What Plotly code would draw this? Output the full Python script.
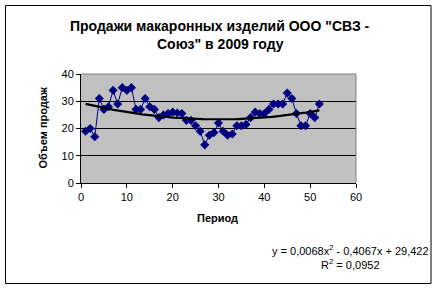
import numpy as np
import plotly.graph_objects as go

# ---- data ----
periods = list(range(1, 53))
sales = [19, 20, 17, 31, 27, 28, 34, 29, 35, 34,
         35, 27, 27, 31, 28, 27, 24, 25, 25.5, 26,
         25.7, 25.5, 23, 23, 21, 19, 14, 17.5, 18.5, 22,
         19, 17.5, 18, 21, 21, 21.5, 24, 26, 25.5, 25.5,
         27, 29, 29, 29, 33, 31, 25.5, 21, 21, 25.5,
         24, 29]
trend_coef = [0.0068, -0.4067, 29.422]   # polynomial trendline (deg 2)
x_ticks = [0, 10, 20, 30, 40, 50, 60]
y_ticks = [0, 10, 20, 30, 40]

title_l1 = 'Продажи макаронных изделий ООО "СВЗ -'
title_l2 = 'Союз" в 2009 году'
x_title = "Период"
y_title = "Объем продаж"
eq_text = "y = 0,0068x<sup>2</sup> - 0,4067x + 29,422<br>R<sup>2</sup> = 0,0952"

tx = np.linspace(periods[0], periods[-1], 200)
ty = np.polyval(trend_coef, tx)

FONT = "Liberation Sans, Arial, sans-serif"
NAVY = "#000080"

fig = go.Figure()
fig.add_trace(go.Scatter(
    x=periods, y=sales, mode="lines+markers",
    line=dict(color=NAVY, width=1),
    marker=dict(symbol="diamond", size=7, color=NAVY),
    showlegend=False, hoverinfo="skip"))
fig.add_trace(go.Scatter(
    x=tx, y=ty, mode="lines",
    line=dict(color="black", width=2.2),
    showlegend=False, hoverinfo="skip"))

L, R, T, B = 81, 82, 74, 105
W, H = 438, 288
pw, ph = W - L - R, H - T - B

def px_x(p):
    return (p - L) / pw

def px_y(p):
    return (H - B - p) / ph

fig.update_layout(
    width=W, height=H,
    margin=dict(l=L, r=R, t=T, b=B, pad=0),
    paper_bgcolor="white", plot_bgcolor="#C0C0C0",
    font=dict(family=FONT, size=11, color="black"),
    xaxis=dict(range=[0, 60], tickvals=x_ticks, showgrid=False, zeroline=False,
               showline=True, linecolor="black", linewidth=1,
               ticks="outside", ticklen=4, tickcolor="black",
               tickfont=dict(size=11, family=FONT)),
    yaxis=dict(range=[0, 40], tickvals=y_ticks, showgrid=True, gridcolor="black",
               gridwidth=1, zeroline=False,
               showline=True, linecolor="black", linewidth=1,
               ticks="outside", ticklen=4, tickcolor="black",
               tickfont=dict(size=11, family=FONT)),
    shapes=[
        dict(type="rect", xref="paper", yref="paper",
             x0=px_x(5.5), x1=px_x(431), y0=px_y(283.5), y1=px_y(5.5),
             line=dict(color="black", width=1), fillcolor="rgba(0,0,0,0)", layer="below"),
        dict(type="line", xref="paper", yref="paper", x0=0, x1=1, y0=1, y1=1,
             line=dict(color="#808080", width=1), layer="above"),
        dict(type="line", xref="paper", yref="paper", x0=1, x1=1, y0=0, y1=1,
             line=dict(color="#808080", width=1), layer="above"),
    ],
    annotations=[
        dict(text="<b>" + title_l1 + "</b>", xref="paper", yref="paper",
             x=px_x(220), y=px_y(26), xanchor="center", yanchor="middle",
             showarrow=False, font=dict(size=14, family=FONT)),
        dict(text="<b>" + title_l2 + "</b>", xref="paper", yref="paper",
             x=px_x(220), y=px_y(44), xanchor="center", yanchor="middle",
             showarrow=False, font=dict(size=14, family=FONT)),
        dict(text="<b>" + x_title + "</b>", xref="paper", yref="paper",
             x=px_x(217), y=px_y(218), xanchor="center", yanchor="middle",
             showarrow=False, font=dict(size=11, family=FONT)),
        dict(text="<b>" + y_title + "</b>", xref="paper", yref="paper",
             x=px_x(42), y=px_y(128.5), xanchor="center", yanchor="middle",
             textangle=-90, showarrow=False, font=dict(size=11, family=FONT)),
        dict(text=eq_text, xref="paper", yref="paper",
             x=px_x(350), y=px_y(257), xanchor="center", yanchor="middle",
             align="center", showarrow=False, font=dict(size=11, family=FONT)),
    ],
)

fig.write_html("out.html")
